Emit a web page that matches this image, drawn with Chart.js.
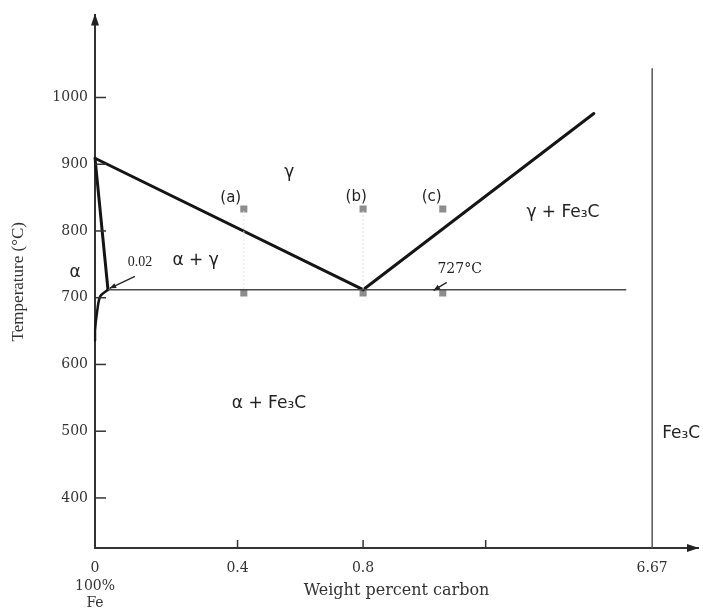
<!DOCTYPE html>
<html>
<head>
<meta charset="utf-8">
<script src="https://cdn.jsdelivr.net/npm/chart.js@4/dist/chart.umd.min.js"></script>
<style>
  html, body { margin: 0; padding: 0; background: #ffffff; }
  #c { display: block; }
</style>
</head>
<body>
<canvas id="c" width="703" height="615"></canvas>
<script>
// ---------- DATA (weight percent carbon, temperature °C) ----------
// A3 line: gamma / alpha+gamma boundary
const a3Carbon = [0, 0.8];
const a3Temp = [909, 712];
// Acm line: gamma / gamma+Fe3C boundary
const acmCarbon = [0.8, 1.55];
const acmTemp = [712, 976];
// alpha / alpha+gamma boundary
const alphaCarbon = [0, 0.02];
const alphaTemp = [909, 712];
// alpha solvus
const solvusCarbon = [0.02, 0.008, 0.003, 0, 0];
const solvusTemp = [712, 702, 677, 651, 636];
// eutectoid isotherm (727 °C)
const eutectoidCarbon = [0.02, 1.655];
const eutectoidTemp = [712, 712];
// Fe3C composition line
const cementiteCarbon = [6.67, 6.67];
const cementiteTemp = [325, 1044];
// alloys (a), (b), (c)
const alloyCarbon = [0.42, 0.8, 1.06];
const alloyTempAbove = [833, 833, 833];
const alloyTempBelow = [707, 707, 707];
// faint guide lines under (a) and (b)
const guideACarbon = [0.42, 0.42];
const guideBCarbon = [0.8, 0.8];
const guideTemp = [830, 712];

// ---------- TICKS ----------
const xTicks = [0, 0.4, 0.8, 1.2, 6.67];
const xTickLabels = [['0', '100%', 'Fe'], '0.4', '0.8', '', '6.67'];
const xTickMarks = [0.4, 0.8, 1.2];
const yTicks = [400, 500, 600, 700, 800, 900, 1000];

// broken (piecewise) carbon axis: value -> fraction of axis length
const X_BREAK_VALUES = [0, 0.02, 0.4, 0.8, 1.2, 1.7, 6.67, 6.82];
const X_BREAK_FRACS  = [0, 0.0215, 0.2364, 0.4446, 0.6479, 0.9041, 0.9240, 1.0];

const zip = (xs, ys) => xs.map((x, i) => ({ x: x, y: ys[i] }));

// ---------- custom broken linear scale ----------
const BaseLinear = Chart.LinearScale || Chart.registry.getScale('linear');
class BrokenLinearScale extends BaseLinear {
  static id = 'brokenLinear';
  determineDataLimits() {
    this.min = X_BREAK_VALUES[0];
    this.max = X_BREAK_VALUES[X_BREAK_VALUES.length - 1];
  }
  buildTicks() {
    return xTicks.map(v => ({ value: v }));
  }
  toFraction(v) {
    const R = X_BREAK_VALUES, F = X_BREAK_FRACS;
    for (let i = 1; i < R.length; i++) {
      if (v <= R[i] || i === R.length - 1) {
        return F[i - 1] + (v - R[i - 1]) / (R[i] - R[i - 1]) * (F[i] - F[i - 1]);
      }
    }
    return 0;
  }
  fromFraction(f) {
    const R = X_BREAK_VALUES, F = X_BREAK_FRACS;
    for (let i = 1; i < F.length; i++) {
      if (f <= F[i] || i === F.length - 1) {
        return R[i - 1] + (f - F[i - 1]) / (F[i] - F[i - 1]) * (R[i] - R[i - 1]);
      }
    }
    return 0;
  }
  getPixelForValue(v) {
    return v === null || v === undefined ? NaN : this.getPixelForDecimal(this.toFraction(v));
  }
  getValueForPixel(p) {
    return this.fromFraction(this.getDecimalForPixel(p));
  }
}
Chart.register(BrokenLinearScale);

// ---------- annotations (placed in data coordinates) ----------
const SANS = '"DejaVu Sans", sans-serif';
const SERIF_T = '"Liberation Serif", serif';
const SERIF_D = '"DejaVu Serif", serif';
const annotations = [
  { text: 'γ', x: 0.565, y: 888, font: '17px ' + SANS },
  { text: '(a)', x: 0.38, y: 849, font: '15px ' + SANS },
  { text: '(b)', x: 0.778, y: 851, font: '15px ' + SANS },
  { text: '(c)', x: 1.024, y: 851, font: '15px ' + SANS },
  { text: 'α + γ', x: 0.277, y: 756, font: '17px ' + SANS },
  { text: 'α', x: 0, y: 737, dx: -20, font: '17px ' + SANS },
  { text: '0.02', x: 0.114, y: 753, font: '14px ' + SERIF_T },
  { text: '727°C', x: 1.115, y: 743, font: '14px ' + SERIF_D },
  { text: 'γ + Fe₃C', x: 1.45, y: 828, font: '17px ' + SANS },
  { text: 'α + Fe₃C', x: 0.50, y: 542, font: '17px ' + SANS },
  { text: 'Fe₃C', x: 6.765, y: 497, font: '17px ' + SANS }
];
const leaders = [
  { from: [0.099, 732], to: [0.025, 714] },
  { from: [1.073, 723], to: [1.03, 711] }
];

const decor = {
  id: 'decor',
  afterDraw(chart) {
    const { ctx, chartArea: ca } = chart;
    const xs = chart.scales.x, ys = chart.scales.y;
    ctx.save();
    const line = (x1, y1, x2, y2) => { ctx.beginPath(); ctx.moveTo(x1, y1); ctx.lineTo(x2, y2); ctx.stroke(); };
    // inward tick marks
    ctx.strokeStyle = '#333';
    ctx.lineWidth = 1.5;
    ys.ticks.forEach((t, i) => {
      const py = ys.getPixelForTick(i);
      line(ca.left, py, ca.left + 11, py);
    });
    xs.ticks.forEach((t, i) => {
      if (xTickMarks.indexOf(t.value) < 0) return;
      const px = xs.getPixelForTick(i);
      line(px, ca.bottom, px, ca.bottom - 8);
    });
    // axis arrow heads
    ctx.fillStyle = '#222';
    ctx.beginPath();
    ctx.moveTo(ca.left, ca.top - 2);
    ctx.lineTo(ca.left - 4, ca.top + 10);
    ctx.lineTo(ca.left + 4, ca.top + 10);
    ctx.closePath(); ctx.fill();
    ctx.beginPath();
    ctx.moveTo(ca.right + 1, ca.bottom);
    ctx.lineTo(ca.right - 11, ca.bottom - 4);
    ctx.lineTo(ca.right - 11, ca.bottom + 4);
    ctx.closePath(); ctx.fill();
    // leader arrows
    ctx.strokeStyle = '#222';
    ctx.lineWidth = 1.2;
    leaders.forEach(l => {
      const x1 = xs.getPixelForValue(l.from[0]), y1 = ys.getPixelForValue(l.from[1]);
      const x2 = xs.getPixelForValue(l.to[0]), y2 = ys.getPixelForValue(l.to[1]);
      line(x1, y1, x2, y2);
      const a = Math.atan2(y2 - y1, x2 - x1);
      ctx.beginPath();
      ctx.moveTo(x2, y2);
      ctx.lineTo(x2 - 7 * Math.cos(a - 0.4), y2 - 7 * Math.sin(a - 0.4));
      ctx.lineTo(x2 - 7 * Math.cos(a + 0.4), y2 - 7 * Math.sin(a + 0.4));
      ctx.closePath(); ctx.fill();
    });
    // text labels
    ctx.fillStyle = '#222';
    ctx.textAlign = 'center';
    ctx.textBaseline = 'middle';
    annotations.forEach(a => {
      ctx.font = a.font;
      ctx.fillText(a.text, xs.getPixelForValue(a.x) + (a.dx || 0), ys.getPixelForValue(a.y));
    });
    ctx.restore();
  }
};

const thick = { showLine: true, borderColor: '#151515', borderWidth: 3, pointRadius: 0, fill: false, borderCapStyle: 'round', borderJoinStyle: 'round' };

new Chart(document.getElementById('c'), {
  type: 'scatter',
  data: {
    datasets: [
      { label: 'guide a', data: zip(guideACarbon, guideTemp), showLine: true, borderColor: '#e2e2e2', borderWidth: 1, borderDash: [2, 2], pointRadius: 0 },
      { label: 'guide b', data: zip(guideBCarbon, guideTemp), showLine: true, borderColor: '#d8d8d8', borderWidth: 1, borderDash: [2, 2], pointRadius: 0 },
      { label: 'Eutectoid 727°C', data: zip(eutectoidCarbon, eutectoidTemp), showLine: true, borderColor: '#4a4a4a', borderWidth: 1.5, pointRadius: 0 },
      { label: 'Fe3C', data: zip(cementiteCarbon, cementiteTemp), showLine: true, borderColor: '#555', borderWidth: 1.5, pointRadius: 0 },
      Object.assign({ label: 'A3', data: zip(a3Carbon, a3Temp) }, thick),
      Object.assign({ label: 'Acm', data: zip(acmCarbon, acmTemp) }, thick),
      Object.assign({ label: 'alpha boundary', data: zip(alphaCarbon, alphaTemp) }, thick),
      Object.assign({ label: 'solvus', data: zip(solvusCarbon, solvusTemp), tension: 0.3 }, thick, { borderWidth: 2.5 }),
      { label: 'alloys above', data: zip(alloyCarbon, alloyTempAbove), showLine: false, pointStyle: 'rect', pointRadius: 5, backgroundColor: '#8d8d8d', borderWidth: 0 },
      { label: 'alloys below', data: zip(alloyCarbon, alloyTempBelow), showLine: false, pointStyle: 'rect', pointRadius: 5, backgroundColor: '#8d8d8d', borderWidth: 0 }
    ]
  },
  options: {
    responsive: false,
    animation: false,
    devicePixelRatio: 1,
    layout: { padding: { top: 15, right: 3, left: 0, bottom: 0 } },
    plugins: { legend: { display: false }, tooltip: { enabled: false } },
    scales: {
      x: {
        type: 'brokenLinear',
        position: 'bottom',
        afterFit: s => { s.height = 67; },
        grid: { display: true, drawOnChartArea: false, drawTicks: false },
        border: { display: true, color: '#333', width: 2 },
        ticks: {
          autoSkip: false, maxRotation: 0, minRotation: 0, padding: 12, color: '#333',
          font: { family: 'DejaVu Serif', size: 14, lineHeight: 1.25 },
          callback: (v, i) => xTickLabels[i]
        },
        title: {
          display: true, text: 'Weight percent carbon', color: '#333',
          font: { family: 'DejaVu Serif', size: 16, lineHeight: 1.2 },
          padding: { top: 0, bottom: 15 }
        }
      },
      y: {
        type: 'linear',
        position: 'left',
        min: 325,
        max: 1123,
        afterFit: s => { s.width = 95; },
        afterBuildTicks: s => { s.ticks = yTicks.map(v => ({ value: v })); },
        grid: { display: true, drawOnChartArea: false, drawTicks: false },
        border: { display: true, color: '#333', width: 2 },
        ticks: {
          autoSkip: false, padding: 7, color: '#333',
          font: { family: 'DejaVu Serif', size: 14 },
          callback: v => String(v)
        },
        title: {
          display: true, text: 'Temperature (°C)', color: '#333',
          font: { family: 'Liberation Serif', size: 17, lineHeight: 1.2 },
          padding: { top: 8, bottom: 0 }
        }
      }
    }
  },
  plugins: [decor]
});
</script>
</body>
</html>
